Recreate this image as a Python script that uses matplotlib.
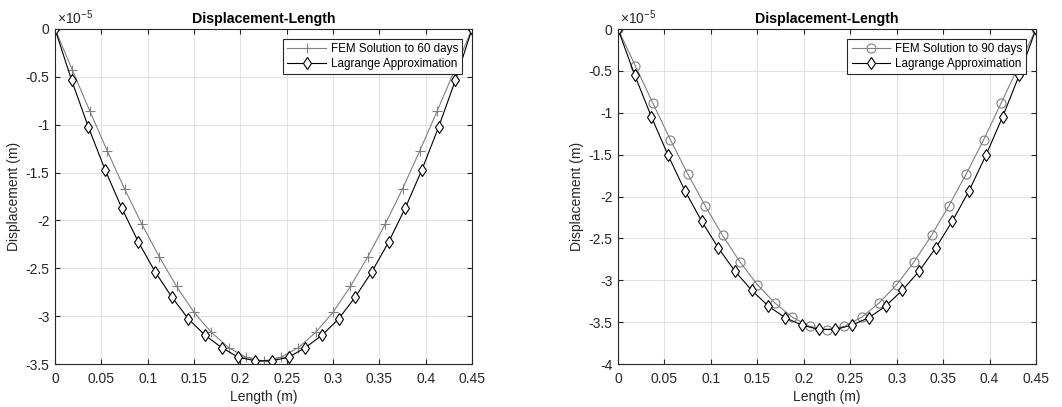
import matplotlib
matplotlib.use("Agg")
import matplotlib.pyplot as plt
from matplotlib.ticker import FuncFormatter, MultipleLocator
import numpy as np

plt.rcParams['font.family'] = ['Liberation Sans', 'DejaVu Sans']
plt.rcParams['mathtext.fontset'] = 'custom'
plt.rcParams['mathtext.rm'] = 'Liberation Sans'

# FEM nodes (24 elements over 0.45 m) and Lagrange nodes (25 intervals)
x_fem = [0.45 * i / 24 for i in range(25)]
x_lag = [0.45 * i / 25 for i in range(26)]

# Displacement values in units of 1e-5 m
fem60_half = [0, -0.43, -0.855, -1.27, -1.67, -2.04, -2.38, -2.69, -2.96, -3.17, -3.33, -3.43, -3.47]
fem60 = fem60_half + fem60_half[-2::-1]
lag60_half = [0, -0.537, -1.024, -1.47, -1.87, -2.226, -2.536, -2.80, -3.03, -3.20, -3.33, -3.43, -3.466]
lag60 = lag60_half + lag60_half[::-1]

fem90_half = [0, -0.442, -0.884, -1.32, -1.728, -2.11, -2.464, -2.78, -3.053, -3.27, -3.44, -3.55, -3.59]
fem90 = fem90_half + fem90_half[-2::-1]
lag90_half = [0, -0.55, -1.05, -1.51, -1.93, -2.293, -2.615, -2.894, -3.12, -3.31, -3.447, -3.535, -3.587]
lag90 = lag90_half + lag90_half[::-1]

SCALE = 1e-5
x_ticks = [0, 0.05, 0.1, 0.15, 0.2, 0.25, 0.3, 0.35, 0.4, 0.45]

fig = plt.figure(figsize=(10.62, 4.07), dpi=100)
W, H = 1062, 407
ax1 = fig.add_axes([55 / W, 1 - 364 / H, (472 - 55) / W, (364 - 29) / H])
ax2 = fig.add_axes([618 / W, 1 - 364 / H, (1036 - 618) / W, (364 - 29) / H])

def fmt_x(v, pos):
    s = ('%.2f' % v).rstrip('0').rstrip('.')
    return s

def fmt_y(v, pos):
    v = v / SCALE
    s = ('%.1f' % v).rstrip('0').rstrip('.')
    if s in ('-0', ''):
        s = '0'
    return s.replace('\u2212', '-')

def style(ax, ymin, label, fem, lag, marker, mkw):
    ax.plot(x_fem, np.array(fem) * SCALE, color='0.5', lw=0.8, marker=marker,
            ms=6.5, label=label, **mkw)
    ax.plot(x_lag, np.array(lag) * SCALE, color='black', lw=0.8, marker='d',
            ms=6.5, mfc='white', mec='black', mew=0.8, label='Lagrange Approximation')
    ax.set_xlim(0, 0.45)
    ax.set_ylim(ymin * SCALE, 0)
    ax.set_xticks(x_ticks)
    ax.yaxis.set_major_locator(MultipleLocator(0.5 * SCALE))
    ax.xaxis.set_major_formatter(FuncFormatter(fmt_x))
    ax.yaxis.set_major_formatter(FuncFormatter(fmt_y))
    ax.grid(True, color='0.89', lw=0.8)
    ax.set_axisbelow(True)
    ax.tick_params(direction='in', top=True, right=True, labelsize=10,
                   length=3.5, width=0.8, colors='0.15')
    ax.tick_params(axis='x', pad=6)
    ax.tick_params(axis='y', pad=4)
    for sp in ax.spines.values():
        sp.set_color('0.15')
        sp.set_linewidth(0.8)
    ax.set_title('Displacement-Length', fontsize=10.2, fontweight='bold', pad=4)
    ax.set_xlabel('Length (m)', fontsize=10, color='0.15', labelpad=3)
    ax.set_ylabel('Displacement (m)', fontsize=10, color='0.15', labelpad=3)
    ax.text(0.004, 1.005, r'$\times10^{-5}$', transform=ax.transAxes, fontsize=10,
            color='0.15', ha='left', va='bottom')
    leg = ax.legend(loc='upper right', fontsize=8.4, fancybox=False, framealpha=1,
                    edgecolor='0.15', borderpad=0.35, handlelength=3.3,
                    handletextpad=0.4, labelspacing=0.25, borderaxespad=0.85)
    leg.get_frame().set_linewidth(0.8)

style(ax1, -3.5, 'FEM Solution to 60 days', fem60, lag60, '+', dict(mew=0.8))
style(ax2, -4.0, 'FEM Solution to 90 days', fem90, lag90, 'o',
      dict(mfc='none', mec='0.5', mew=0.8))

fig.savefig('out.png', dpi=100, facecolor='white')
